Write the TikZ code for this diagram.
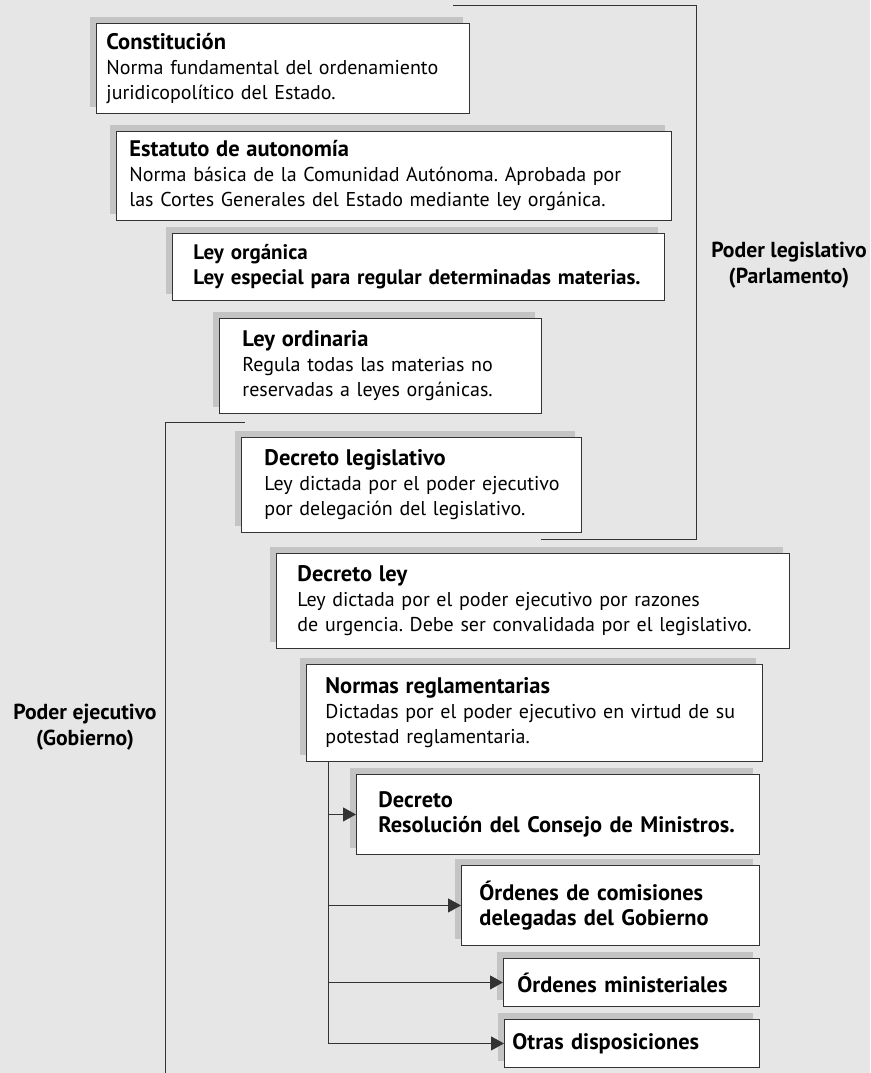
\documentclass[tikz,border=0pt]{standalone}
\usepackage{fontspec}
\setmainfont{PT Sans}
\frenchspacing
\usetikzlibrary{shadows, arrows.meta}

\definecolor{fondo}{HTML}{E6E6E6}
\definecolor{sombra}{HTML}{C4C4C4}
\definecolor{trazo}{HTML}{333333}

\newcommand{\titulo}[1]{{\fontsize{22.5}{25}\selectfont\bfseries #1}}

\tikzset{
  norma/.style n args={4}{draw=trazo, fill=white, line width=0.9pt,
    anchor=north west, align=left, inner xsep=0pt, inner ysep=2pt,
    text width=#1pt, minimum height=#2pt,
    execute at begin node={\leftskip=#3pt\relax},
    font=\fontsize{#4}{25}\selectfont,
    general shadow={fill=sombra, shadow xshift=-6pt, shadow yshift=6pt}},
  poder/.style={align=center, font=\bfseries\fontsize{21.7}{26}\selectfont},
  llave/.style={draw=trazo, line width=0.9pt},
  rama/.style={-{Triangle[length=13pt,width=14pt]}, draw=trazo, line width=0.9pt}
}

\begin{document}
\begin{tikzpicture}[x=1pt, y=-1pt]
  \fill[fondo] (0,0) rectangle (870,1073);
  \useasboundingbox (0,0) rectangle (870,1073);

  % llaves de los dos poderes
  \coordinate (leg1) at (453,5);
  \coordinate (leg2) at (696,539);
  \coordinate (leg3) at (541,539);
  \draw[llave] (leg1) -| (leg2) -- (leg3);
  \coordinate (eje1) at (245,422);
  \coordinate (eje2) at (165,422);
  \coordinate (eje3) at (165,1073);
  \draw[llave] (eje1) -- (eje2) -- (eje3);

  \node[poder] (parlamento) at (789,265) {Poder legislativo\\(Parlamento)};
  \node[poder] (gobierno) at (85,727) {Poder ejecutivo\\(Gobierno)};

  % escalera de normas
  \node[norma={373}{90}{10}{20}] (constitucion) at (96,23)
    {\titulo{Constitución}\\Norma fundamental del ordenamiento\\juridicopolítico del Estado.};
  \node[norma={555}{89}{13}{20}] (estatuto) at (116,131)
    {\titulo{Estatuto de autonomía}\\Norma básica de la Comunidad Autónoma. Aprobada por\\las Cortes Generales del Estado mediante ley orgánica.};
  \node[norma={492}{67}{21}{21}] (organica) at (172,233)
    {\textbf{Ley orgánica}\\\textbf{Ley especial para regular determinadas materias.}};
  \node[norma={322}{95}{23}{20}] (ordinaria) at (219,318)
    {\titulo{Ley ordinaria}\\Regula todas las materias no\\reservadas a leyes orgánicas.};
  \node[norma={340}{95}{23}{20}] (legislativo) at (241,437)
    {\titulo{Decreto legislativo}\\Ley dictada por el poder ejecutivo\\por delegación del legislativo.};
  \node[norma={513}{95}{21}{20}] (decretoley) at (276,553)
    {\titulo{Decreto ley}\\Ley dictada por el poder ejecutivo por razones\\de urgencia. Debe ser convalidada por el legislativo.};
  \node[norma={456}{97}{19}{20}] (normas) at (306,664)
    {\titulo{Normas reglamentarias}\\Dictadas por el poder ejecutivo en virtud de su\\potestad reglamentaria.};

  % normas reglamentarias
  \node[norma={403}{80}{22}{22.4}] (decreto) at (356,774)
    {\textbf{Decreto}\\\textbf{Resolución del Consejo de Ministros.}};
  \node[norma={298}{80}{18}{22.4}] (comisiones) at (461,865)
    {\textbf{Órdenes de comisiones}\\\textbf{delegadas del Gobierno}};
  \node[norma={256}{48}{14}{22.4}] (ministeriales) at (503,958)
    {\textbf{Órdenes ministeriales}};
  \node[norma={255}{48}{8}{22.4}] (otras) at (504,1019)
    {\textbf{Otras disposiciones}};

  \path (normas.south west) ++(22,0) coordinate (tronco);
  \draw[rama] (tronco) |- (otras.west);
  \draw[rama] (tronco |- decreto.west) -- (decreto.west);
  \draw[rama] (tronco |- comisiones.west) -- (comisiones.west);
  \draw[rama] (tronco |- ministeriales.west) -- (ministeriales.west);
\end{tikzpicture}
\end{document}
